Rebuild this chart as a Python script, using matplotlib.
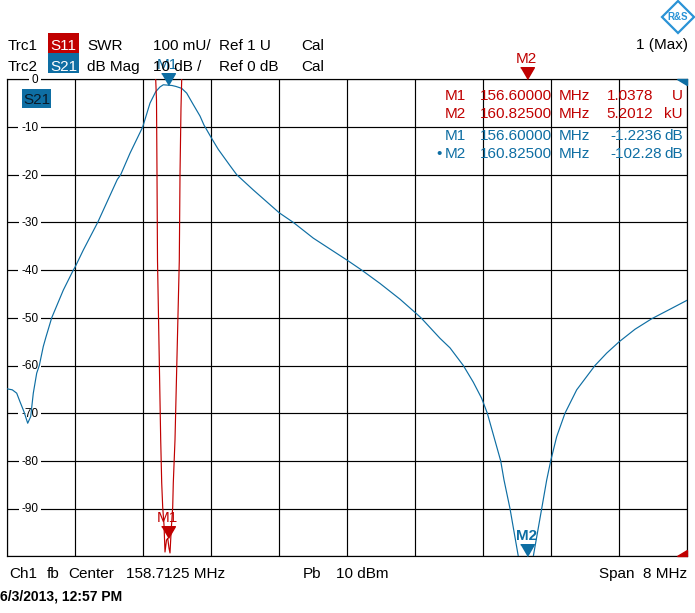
import matplotlib
matplotlib.use("Agg")
import matplotlib.pyplot as plt
from matplotlib.patches import Rectangle, Polygon

# ---------------- data ----------------
center_mhz = 158.7125
span_mhz = 8.0

s21_freq_mhz = [154.7125, 154.7713, 154.8231, 154.8619, 154.9090, 154.9525, 154.9878,
                155.0184, 155.0584, 155.0890, 155.1360, 155.1678, 155.2349, 155.3713,
                155.4890, 155.5090, 155.6066, 155.7760, 156.0066, 156.0466, 156.1560,
                156.3054, 156.3913, 156.4584, 156.5090, 156.5478, 156.6000, 156.6501,
                156.6972, 156.7643, 156.8231, 156.8972, 156.9796, 157.0266, 157.1172,
                157.1949, 157.3325, 157.4113, 157.6066, 157.9125, 158.0772, 158.3125,
                158.7172, 158.8819, 159.0972, 159.3325, 159.5172, 159.5796, 159.8031,
                159.9207, 160.0772, 160.1949, 160.2937, 160.3596, 160.5172, 160.5560,
                160.6266, 160.7243, 160.7678, 160.8250, 160.8737, 160.9007, 160.9996,
                161.0584, 161.1054, 161.1760, 161.2737, 161.4113, 161.6266, 161.7643,
                161.9125, 162.0972, 162.2937, 162.5090, 162.7125]
s21_db = [-64.9, -65.1, -65.8, -67.6, -69.7, -72.1, -70.7,
          -65.8, -61.6, -60.0, -56.0, -54.0, -50.0, -44.2,
          -40.0, -39.4, -35.8, -30.0, -21.0, -20.0, -15.5,
          -10.0, -5.0, -2.6, -1.6, -1.15, -1.2236, -1.3,
          -1.5, -1.9, -2.9, -5.2, -7.7, -9.6, -12.4,
          -14.7, -18.1, -20.0, -23.2, -28.0, -30.0, -33.3,
          -38.0, -40.0, -42.8, -46.1, -49.0, -50.0, -54.3,
          -56.3, -60.0, -63.5, -66.9, -70.0, -80.0, -84.0,
          -90.0, -100.0, -101.8, -102.28, -101.6, -100.0, -90.0,
          -84.0, -80.0, -74.9, -70.0, -65.1, -60.0, -57.4,
          -55.0, -52.4, -50.2, -48.2, -46.3]

swr_freq_mhz = [154.7125, 156.3913, 156.4384, 156.4584, 156.4678, 156.4737, 156.4796,
                156.5172, 156.5290, 156.5407, 156.5560, 156.5678, 156.5854, 156.6000,
                156.6149, 156.6266, 156.6407, 156.6584, 156.6654, 156.6854, 156.7360,
                156.7443, 156.7560, 156.7643, 156.7796, 156.9796, 160.8250, 162.7125]
swr_values = [60.0, 8.0, 3.0, 2.0, 1.956, 1.80, 1.62,
              1.244, 1.154, 1.103, 1.066, 1.009, 1.034, 1.0378,
              1.017, 1.007, 1.055, 1.103, 1.154, 1.244, 1.62,
              1.80, 1.94, 2.0, 3.0, 10.0, 5201.2, 100.0]

marker_names = ["M1", "M2"]
marker_freq_mhz = [156.6, 160.825]
marker_freq_text = ["156.60000", "160.82500"]
marker_swr = [1.0378, 5201.2]
marker_swr_text = ["1.0378", "5.2012"]
marker_swr_units = ["U", "kU"]
marker_s21_db = [-1.2236, -102.28]
marker_s21_text = ["-1.2236", "-102.28"]

s21_ref_db, s21_div_db = 0.0, 10.0
swr_ref, swr_div = 1.0, 0.1
n_div = 10

# ---------------- style ----------------
RED = "#c00000"
BLUE = "#0e6ea3"
LOGO = "#2a93d6"
W, H = 695, 613
plt.rcParams['font.family'] = ['Liberation Sans', 'DejaVu Sans']
FS = 11

fig = plt.figure(figsize=(W / 100, H / 100), dpi=100)
fig.patch.set_facecolor("white")


def fx(x):
    return x / W


def fy(y):
    return 1 - y / H


def ftext(x, y, s, **kw):
    kw.setdefault("fontsize", FS)
    kw.setdefault("va", "baseline")
    fig.text(fx(x), fy(y), s, **kw)


def frect(x0, y0, x1, y1, color):
    fig.patches.append(Rectangle((fx(x0), fy(y1)), (x1 - x0) / W, (y1 - y0) / H,
                                 transform=fig.transFigure, facecolor=color,
                                 edgecolor="none"))


ax = fig.add_axes([7.3 / W, 1 - 556.3 / H, 680 / W, 477 / H])
fmin = center_mhz - span_mhz / 2
fmax = center_mhz + span_mhz / 2
ax.set_xlim(fmin, fmax)
ax.set_ylim(s21_ref_db - n_div * s21_div_db, s21_ref_db)
ax.set_xticks([fmin + i * span_mhz / n_div for i in range(n_div + 1)])
ax.set_yticks([s21_ref_db - i * s21_div_db for i in range(n_div + 1)])
ax.tick_params(length=0, labelbottom=False, labelleft=False)
ax.grid(True, color="black", linewidth=0.85)
for sp in ax.spines.values():
    sp.set_linewidth(0.85)
    sp.set_color("black")

ax2 = ax.twinx()
ax2.set_ylim(swr_ref, swr_ref + n_div * swr_div)
ax2.set_axis_off()

# y labels inside plot
for i in range(n_div):
    v = s21_ref_db - i * s21_div_db
    lab = "0" if v == 0 else "%d" % v
    ax.annotate(lab, xy=(38.5 - 7.3, v), xycoords=("axes pixels", "data"),
                xytext=(0, -2.8), textcoords="offset points",
                ha="right", va="baseline", fontsize=8.5, color="black",
                zorder=2.6, annotation_clip=False,
                bbox=dict(boxstyle="square,pad=0.25", fc="white", ec="none"))

# traces
ax.plot(s21_freq_mhz, s21_db, color=BLUE, lw=0.85, zorder=3)
ax2.plot(swr_freq_mhz, swr_values, color=RED, lw=0.85, zorder=3)

# markers (tip at value)
tri = [(-7, 12), (7, 12), (0, 0)]
ylo, yhi = ax.get_ylim()
for name, f, v in zip(marker_names, marker_freq_mhz, marker_s21_db):
    vv = min(max(v, ylo), yhi)
    ax.plot([f], [vv], marker=tri, markersize=17, color=BLUE, mec=BLUE,
            clip_on=False, zorder=5)
    ax.annotate(name, xy=(f, vv), xytext=(0, 11.5), textcoords="offset points",
                ha="center", va="baseline", fontsize=FS, color=BLUE,
                fontweight="bold" if name == "M2" else "normal",
                annotation_clip=False, zorder=5)
for name, f, v in zip(marker_names, marker_freq_mhz, marker_swr):
    vv = min(max(v, swr_ref), swr_ref + n_div * swr_div)
    ax2.plot([f], [vv], marker=tri, markersize=17, color=RED, mec=RED,
             clip_on=False, zorder=5)
    ax2.annotate(name, xy=(f, vv), xytext=(0, 12), textcoords="offset points",
                 ha="center", va="baseline", fontsize=FS, color=RED,
                 annotation_clip=False, zorder=5)

# corner indicators
ax.add_patch(Polygon([(1 - 10.3 / 680, 1), (1, 1), (1, 1 - 5.5 / 477)],
                     closed=True, transform=ax.transAxes, color=BLUE,
                     clip_on=False, zorder=4))
ax.add_patch(Polygon([(1 - 10.3 / 680, 0), (1, 0), (1, 6.5 / 477)],
                     closed=True, transform=ax.transAxes, color=RED,
                     clip_on=False, zorder=4))

# S21 tag in plot
frect(22, 89, 51, 108, BLUE)
ftext(36.5, 104.5, "S21", ha="center", color="#0a1a28")

# marker table
rows_y = [100, 118.3, 140, 158]
for i in range(2):
    y = rows_y[i]
    ftext(445, y, marker_names[i], color=RED)
    ftext(480, y, marker_freq_text[i], color=RED)
    ftext(559, y, "MHz", color=RED)
    ftext(653, y, marker_swr_text[i], color=RED, ha="right")
    ftext(683, y, marker_swr_units[i], color=RED, ha="right")
for i in range(2):
    y = rows_y[2 + i]
    ftext(445, y, marker_names[i], color=BLUE)
    ftext(480, y, marker_freq_text[i], color=BLUE)
    ftext(559, y, "MHz", color=BLUE)
    ftext(662, y, marker_s21_text[i], color=BLUE, ha="right")
    ftext(683, y, "dB", color=BLUE, ha="right")
ftext(436, rows_y[3], "\u2022", color=BLUE)

# header
frect(48, 33, 79, 53, RED)
frect(48, 53, 79, 73, BLUE)
ftext(7.3, 50, "Trc1")
ftext(63.5, 50, "S11", ha="center", color="white")
ftext(87.3, 50, "SWR")
ftext(152.7, 50, "100 mU/")
ftext(219.3, 50, "Ref 1 U")
ftext(301.7, 50, "Cal")
ftext(7.3, 71, "Trc2")
ftext(63.5, 71, "S21", ha="center", color="white")
ftext(87.3, 71, "dB Mag")
ftext(152.7, 71, "10 dB /")
ftext(219.3, 71, "Ref 0 dB")
ftext(301.7, 71, "Cal")
ftext(688, 49, "1 (Max)", ha="right")

# logo
fig.patches.append(Polygon([(fx(678), fy(1)), (fx(694), fy(17)), (fx(678), fy(33)),
                            (fx(662), fy(17))], closed=True, transform=fig.transFigure,
                           facecolor="white", edgecolor=LOGO, linewidth=1.6))
ftext(678, 17, "R&S", ha="center", va="center", fontsize=7, color=LOGO,
      fontweight="bold")

# footer
ftext(8.9, 578, "Ch1")
ftext(46.6, 578, "fb")
ftext(68.7, 578, "Center")
ftext(125.5, 578, "%.4f MHz" % center_mhz)
ftext(303, 578, "Pb")
ftext(335.7, 578, "10 dBm")
ftext(687.5, 578, "Span  %g MHz" % span_mhz, ha="right")
ftext(-0.5, 600.7, "6/3/2013, 12:57 PM", fontsize=10, fontweight="bold")

fig.savefig("out.png", dpi=100)
